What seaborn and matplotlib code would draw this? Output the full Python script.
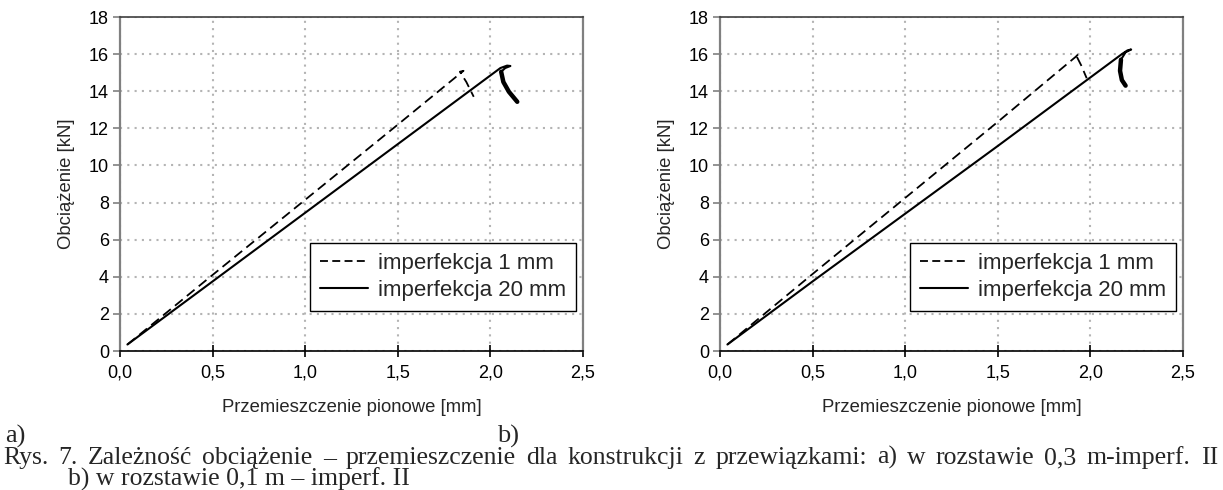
import matplotlib
matplotlib.use("Agg")
import matplotlib.pyplot as plt
import seaborn as sns
from matplotlib.lines import Line2D

sns.set_theme(style="white")
plt.rcParams["font.family"] = ["Liberation Sans", "DejaVu Sans"]

# Panel a) – spacing 0.3 m
a_imp1_x = [0.04, 0.20, 0.50, 1.00, 1.50, 1.83, 1.855, 1.835, 1.87, 1.91]
a_imp1_y = [0.35, 1.65, 4.10, 8.15, 12.20, 14.90, 15.10, 15.05, 14.50, 13.70]
a_imp20_x = [0.04, 0.50, 1.00, 1.50, 2.054, 2.09, 2.108, 2.08, 2.058]
a_imp20_y = [0.35, 3.75, 7.45, 11.15, 15.25, 15.38, 15.36, 15.25, 15.05]
a_imp20_tail_x = [2.058, 2.07, 2.10, 2.145]
a_imp20_tail_y = [15.05, 14.50, 13.97, 13.43]

# Panel b) – spacing 0.1 m
b_imp1_x = [0.04, 0.50, 1.00, 1.50, 1.92, 1.935, 1.922, 1.95, 1.98]
b_imp1_y = [0.35, 4.15, 8.25, 12.35, 15.85, 16.00, 15.95, 15.40, 14.70]
b_imp20_x = [0.04, 0.50, 1.00, 1.50, 2.17, 2.20, 2.22, 2.19, 2.165]
b_imp20_y = [0.35, 3.75, 7.40, 11.05, 16.00, 16.20, 16.25, 16.10, 15.70]
b_imp20_tail_x = [2.165, 2.16, 2.17, 2.19]
b_imp20_tail_y = [15.70, 15.10, 14.60, 14.30]

x_ticks = [0.0, 0.5, 1.0, 1.5, 2.0, 2.5]
y_ticks = [0, 2, 4, 6, 8, 10, 12, 14, 16, 18]
series_labels = ["imperfekcja 1 mm", "imperfekcja 20 mm"]
x_label = "Przemieszczenie pionowe [mm]"
y_label = "Obciążenie [kN]"
caption_1 = ("Rys. 7. Zależność obciążenie – przemieszczenie dla konstrukcji z przewiązkami: "
             "a) w rozstawie 0,3 m-imperf. II")
caption_2 = "b) w rozstawie 0,1 m – imperf. II"

fig = plt.figure(figsize=(12.23, 4.90), dpi=100)
W, H = 1223, 490


def axes_px(x0, x1, y_top, y_bot):
    return fig.add_axes([x0 / W, 1 - y_bot / H, (x1 - x0) / W, (y_bot - y_top) / H])


ax_a = axes_px(120, 583, 17, 351)
ax_b = axes_px(720, 1183, 17, 351)

panels = [
    (ax_a, a_imp1_x, a_imp1_y, a_imp20_x, a_imp20_y, a_imp20_tail_x, a_imp20_tail_y),
    (ax_b, b_imp1_x, b_imp1_y, b_imp20_x, b_imp20_y, b_imp20_tail_x, b_imp20_tail_y),
]

for ax, x1, y1, x20, y20, tx, ty in panels:
    sns.lineplot(x=x1, y=y1, ax=ax, sort=False, estimator=None, color="black",
                 linewidth=1.3, linestyle=(0, (5.5, 3)))
    sns.lineplot(x=x20, y=y20, ax=ax, sort=False, estimator=None, color="black",
                 linewidth=1.5)
    sns.lineplot(x=tx, y=ty, ax=ax, sort=False, estimator=None, color="black",
                 linewidth=3.2, solid_capstyle="round")

    ax.set_xlim(0, 2.5)
    ax.set_ylim(0, 18)
    ax.set_xticks(x_ticks)
    ax.set_yticks(y_ticks)
    ax.set_xticklabels([f"{v:.1f}".replace(".", ",") for v in x_ticks])
    ax.set_yticklabels([str(v) for v in y_ticks])
    ax.grid(True, color="#b4b4b4", linestyle=(0, (1, 2.5)), linewidth=1.5)
    ax.set_axisbelow(True)

    for side in ("left", "right"):
        ax.spines[side].set_color("#808080")
        ax.spines[side].set_linewidth(1.6)
    ax.spines["top"].set_color("#404040")
    ax.spines["top"].set_linewidth(1.2)
    ax.spines["bottom"].set_color("black")
    ax.spines["bottom"].set_linewidth(1.2)

    ax.tick_params(axis="y", direction="out", length=5, width=1.2, color="#808080",
                   labelsize=13, labelcolor="black", pad=3, left=True)
    ax.tick_params(axis="x", direction="inout", length=9, width=1.2, color="black",
                   labelsize=13, labelcolor="black", pad=5, bottom=True)

    ax.set_xlabel(x_label, fontsize=13.3, labelpad=13)
    ax.set_ylabel(y_label, fontsize=13.3, labelpad=10)

    handles = [
        Line2D([], [], color="black", linewidth=1.3, linestyle=(0, (4.4, 2.4))),
        Line2D([], [], color="black", linewidth=1.5),
    ]
    leg = ax.legend(handles, series_labels, loc="lower right",
                    bbox_to_anchor=(0.985, 0.12), fontsize=16, frameon=True,
                    fancybox=False, framealpha=1, edgecolor="black",
                    handlelength=2.15, handletextpad=0.45, borderpad=0.45,
                    labelspacing=0.28, borderaxespad=0)
    leg.get_frame().set_linewidth(1.0)

serif = ["Liberation Serif", "DejaVu Serif"]
cap_size = 18.5
fig.text(5 / W, 1 - 443 / H, "a)", family=serif, fontsize=cap_size + 0.5, va="baseline", ha="left")
fig.text(497 / W, 1 - 443 / H, "b)", family=serif, fontsize=cap_size + 0.5, va="baseline", ha="left")

# First caption line is justified across the full width
renderer = fig.canvas.get_renderer()
words = caption_1.split(" ")
word_texts = [fig.text(0, 1 - 464 / H, w, family=serif, fontsize=cap_size,
                       va="baseline", ha="left") for w in words]
widths = [t.get_window_extent(renderer).width for t in word_texts]
left_px, right_px = 3, 1218
gap = (right_px - left_px - sum(widths)) / (len(words) - 1)
pos = left_px
for t, w in zip(word_texts, widths):
    t.set_x(pos / W)
    pos += w + gap

fig.text(68 / W, 1 - 486 / H, caption_2, family=serif, fontsize=cap_size,
         va="baseline", ha="left")

fig.savefig("out.png", dpi=100)
